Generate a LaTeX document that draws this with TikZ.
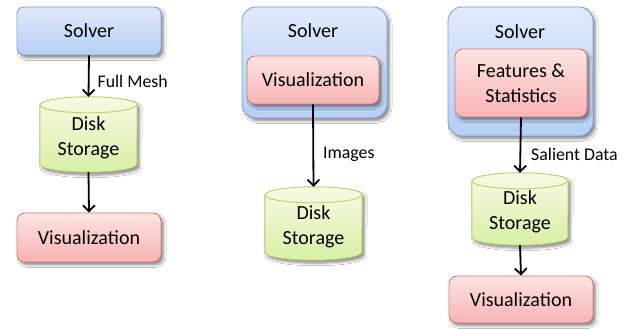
\documentclass[tikz,border=0pt]{standalone}
\usepackage{fontspec}
\setmainfont{Carlito}
\usetikzlibrary{arrows.meta,shadows.blur,calc}
\definecolor{bluetop}{HTML}{E0EAFB}
\definecolor{bluebot}{HTML}{B5CEF5}
\definecolor{blueline}{HTML}{7BA3D8}
\definecolor{redtop}{HTML}{FDE4E4}
\definecolor{redbot}{HTML}{F8B3B3}
\definecolor{redline}{HTML}{D67A7A}
\definecolor{greentop}{HTML}{F6FBE4}
\definecolor{greenbot}{HTML}{D9EFA6}
\definecolor{greenline}{HTML}{B3D36E}
\tikzset{
  myshadow/.style={blur shadow={shadow xshift=2.5pt,shadow yshift=-3pt,shadow blur steps=6,shadow blur radius=2.5pt,shadow opacity=45}},
  bluebox/.style={draw=blueline,line width=0.9pt,rounded corners=7pt,top color=bluetop,bottom color=bluebot,myshadow,inner sep=0pt},
  outerbox/.style={draw=blueline,line width=0.9pt,rounded corners=14pt,top color=bluetop,bottom color=bluebot,myshadow,inner sep=0pt},
  redbox/.style={draw=redline,line width=0.9pt,rounded corners=8pt,top color=redtop,bottom color=redbot,myshadow,inner sep=0pt,align=center,font=\fontsize{20}{25}\selectfont},
  cylnode/.style={inner sep=0pt},
  cylfill/.style={draw=greenline,line width=0.9pt,top color=greentop,bottom color=greenbot,myshadow},
  cylline/.style={draw=greenline,line width=0.9pt},
  txt/.style={font=\fontsize{20}{25}\selectfont,align=center,inner sep=0pt},
  lbl/.style={font=\fontsize{17.8}{21}\selectfont,inner sep=0pt,anchor=west},
  arr/.style={line width=1.8pt,-{Straight Barb[length=6pt,width=12pt]}},
}
\newcommand\mycyl[3]{% name, x radius, y radius
  \path[cylfill] ($(#1.north west)+(0,-#3)$) -- ($(#1.south west)+(0,#3)$)
    arc[start angle=180,end angle=360,x radius=#2,y radius=#3]
    -- ($(#1.north east)+(0,-#3)$)
    arc[start angle=0,end angle=180,x radius=#2,y radius=#3] -- cycle;
  \path[cylline] ($(#1.north west)+(0,-#3)$)
    arc[start angle=180,end angle=360,x radius=#2,y radius=#3];
}
\begin{document}
\begin{tikzpicture}[x=1pt,y=1pt]
\useasboundingbox[fill=white] (0,0) rectangle (629,329);
% ---------- column 1
\node[bluebox,minimum width=144pt,minimum height=48pt,font=\fontsize{20}{25}\selectfont] (s1) at (89,298) {Solver};
\node[cylnode,minimum width=97pt,minimum height=75pt] (d1) at (88.5,194.5) {};
\mycyl{d1}{48.5pt}{8pt}
\node[txt] (d1t) at ($(d1.center)+(0,-3)$) {Disk\\Storage};
\node[redbox,minimum width=144pt,minimum height=49pt] (v1) at (89,91.5) {Visualization};
\draw[arr] (s1.south) -- (d1.north) node[lbl,pos=0.62,xshift=8pt] (l1) {Full Mesh};
\draw[arr] (d1.south) -- (v1.north);
% ---------- column 2
\node[outerbox,minimum width=145pt,minimum height=111pt] (o2) at (314.5,266.5) {};
\node[txt] (t2) at (313,298) {Solver};
\node[redbox,minimum width=132pt,minimum height=48pt] (v2) at (313,249) {Visualization};
\node[cylnode,minimum width=97pt,minimum height=73pt] (d2) at (313.5,105.5) {};
\mycyl{d2}{48.5pt}{8pt}
\node[txt] (d2t) at ($(d2.center)+(0,-3)$) {Disk\\Storage};
\draw[arr] (v2.south) -- (d2.north) node[lbl,pos=0.6,xshift=9pt] (l2) {Images};
% ---------- column 3
\node[outerbox,minimum width=145pt,minimum height=129pt] (o3) at (520.5,257.5) {};
\node[txt] (t3) at (520,297) {Solver};
\node[redbox,minimum width=132pt,minimum height=68pt] (f3) at (521,246) {Features \&\\Statistics};
\node[cylnode,minimum width=96pt,minimum height=72pt] (d3) at (520,120) {};
\mycyl{d3}{48pt}{8pt}
\node[txt] (d3t) at ($(d3.center)+(0,-3)$) {Disk\\Storage};
\node[redbox,minimum width=144pt,minimum height=47pt] (v3) at (521,29.5) {Visualization};
\draw[arr] (f3.south) -- (d3.north) node[lbl,pos=0.66,xshift=10pt] (l3) {Salient Data};
\draw[arr] (d3.south) -- (v3.north);
\end{tikzpicture}
\end{document}
